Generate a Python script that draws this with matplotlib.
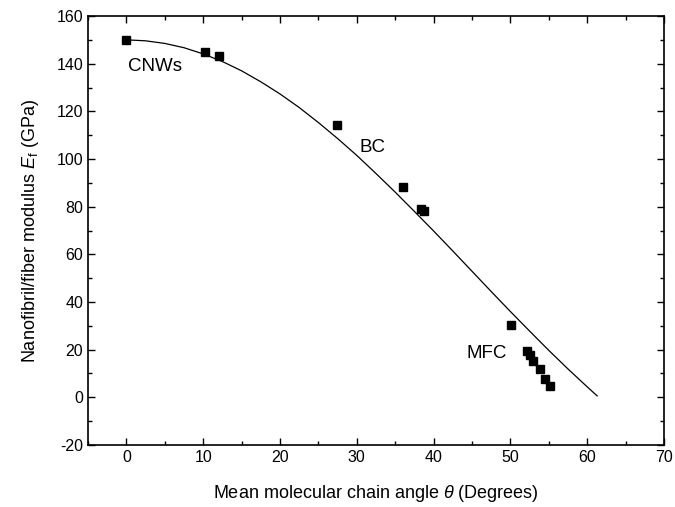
import numpy as np
import matplotlib
matplotlib.use('Agg')
from matplotlib import pyplot as plt
from matplotlib.ticker import MultipleLocator

plt.rcParams['font.family'] = ['Liberation Sans', 'DejaVu Sans']
plt.rcParams['mathtext.fontset'] = 'custom'
plt.rcParams['mathtext.it'] = 'Liberation Sans:italic'
plt.rcParams['mathtext.rm'] = 'Liberation Sans'
plt.rcParams['axes.unicode_minus'] = False

# measured points (angle in degrees, modulus in GPa)
theta_pts = [0, 10.2, 12.0, 27.4, 36.0, 38.4, 38.7, 50.1, 52.2, 52.6, 53.0, 53.8, 54.5, 55.2]
E_pts = [150, 145, 143.2, 114.2, 88.3, 79.2, 78.2, 30.5, 19.3, 17.8, 15.3, 11.8, 7.6, 4.8]

# model curve
theta_curve = [0, 2.5, 5, 7.5, 10, 12.5, 15, 17.5, 20, 22.5, 25, 27.5, 30, 32.5,
               35, 37.5, 40, 42.5, 45, 47.5, 50, 52.5, 55, 57.5, 60, 61.3]
E_curve = [150.0, 149.6, 148.5, 146.7, 144.1, 140.9, 137.0, 132.4, 127.3, 121.6,
           115.3, 108.6, 101.5, 93.9, 86.1, 78.0, 69.8, 61.4, 52.9, 44.4,
           36.0, 27.8, 19.7, 11.9, 4.4, 0.6]

labels = ['CNWs', 'BC', 'MFC']
label_x = [0.2, 30.4, 44.3]
label_y = [139, 105, 18.3]

fig = plt.figure(figsize=(6.75, 5.07), dpi=100)
ax = fig.add_axes([0.1304, 0.1223, 0.8533, 0.8461])

ax.plot(theta_curve, E_curve, color='black', lw=0.9)
ax.plot(theta_pts, E_pts, linestyle='none', marker='s', ms=6, color='black')

for t, x, y in zip(labels, label_x, label_y):
    ax.text(x, y, t, fontsize=13.5, ha='left', va='center')

ax.set_xlim(-5, 70)
ax.set_ylim(-20, 160)
ax.xaxis.set_major_locator(MultipleLocator(10))
ax.xaxis.set_minor_locator(MultipleLocator(5))
ax.yaxis.set_major_locator(MultipleLocator(20))
ax.yaxis.set_minor_locator(MultipleLocator(10))
ax.tick_params(which='both', direction='in', top=True, right=True, labelsize=11.5, width=1)
ax.tick_params(which='major', length=5)
ax.tick_params(which='minor', length=3)
for s in ax.spines.values():
    s.set_linewidth(1.2)

ax.set_xlabel(r'Mean molecular chain angle $\theta$ (Degrees)', fontsize=13, labelpad=13)
ax.set_ylabel(r'Nanofibril/fiber modulus $E_{\rm f}$ (GPa)', fontsize=13, labelpad=11)

fig.savefig('out.png', dpi=100)
